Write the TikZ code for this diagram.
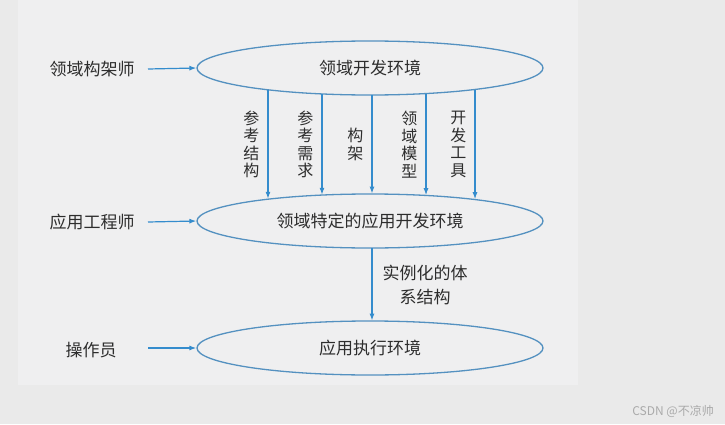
\documentclass[tikz,border=0pt]{standalone}
\usepackage{fontspec}
\setmainfont{Noto Sans CJK SC}
\usetikzlibrary{shapes.geometric,arrows.meta,calc}
\definecolor{bgout}{RGB}{234,234,234}
\definecolor{bgin}{RGB}{239,239,240}
\definecolor{elline}{RGB}{84,145,192}
\definecolor{arrcol}{RGB}{52,140,205}
\definecolor{txt}{RGB}{45,45,45}
\definecolor{wm}{RGB}{170,170,170}
\tikzset{
  env/.style={ellipse, draw=elline, line width=1.3pt, minimum width=346pt, minimum height=54pt, inner sep=0pt, text=txt, font=\fontsize{17}{17}\selectfont},
  role/.style={text=txt, font=\fontsize{17}{17}\selectfont, inner sep=0pt},
  flow/.style={draw=arrcol, line width=1.2pt, -{Latex[length=7pt,width=5pt]}},
  vlabel/.style={text=txt, font=\fontsize{16}{17.5}\selectfont, align=center, inner sep=0pt},
  hlabel/.style={text=txt, font=\fontsize{17}{24}\selectfont, align=center, inner sep=0pt}
}
\begin{document}
\begin{tikzpicture}[x=1pt,y=1pt]
\fill[bgout] (0,0) rectangle (725,424);
\fill[bgin] (18,39) rectangle (578,424);
\useasboundingbox (0,0) rectangle (725,424);

\node[env] (dev) at (370,356) {领域开发环境};
\node[env] (app) at (370,203) {领域特定的应用开发环境};
\node[env] (run) at (370,76) {应用执行环境};

\node[role] (arch) at (92,355) {领域构架师};
\node[role] (eng) at (92,202) {应用工程师};
\node[role] (op) at (91,74) {操作员};

\coordinate (archend) at (148,355);
\coordinate (engend) at (148,202);
\coordinate (opend) at (148,76);
\draw[flow] (archend) -- (dev.west);
\draw[flow] (engend) -- (app.west);
\draw[flow] (opend) -- (run.west);

\draw[flow] ($(dev.center)+(-102,-22.2)$) -- node[vlabel, midway, left=8pt] {参\\考\\结\\构} ($(app.center)+(-102,22.2)$);
\draw[flow] ($(dev.center)+(-48,-26.2)$) -- node[vlabel, midway, left=8pt] {参\\考\\需\\求} ($(app.center)+(-48,26.2)$);
\draw[flow] ($(dev.center)+(2,-27.4)$) -- node[vlabel, midway, left=8pt] {构\\架} ($(app.center)+(2,27.4)$);
\draw[flow] ($(dev.center)+(56,-25.8)$) -- node[vlabel, midway, left=8pt] {领\\域\\模\\型} ($(app.center)+(56,25.8)$);
\draw[flow] ($(dev.center)+(105,-21.8)$) -- node[vlabel, midway, left=8pt] {开\\发\\工\\具} ($(app.center)+(105,21.8)$);

\draw[flow] ($(app.center)+(2,-27.4)$) -- node[hlabel, midway, right=10pt] {实例化的体\\系结构} ($(run.center)+(2,27.4)$);

\node[text=wm, font=\fontsize{12}{12}\selectfont, inner sep=0pt, anchor=east] (mark) at (714,13) {CSDN @不凉帅};
\end{tikzpicture}
\end{document}
